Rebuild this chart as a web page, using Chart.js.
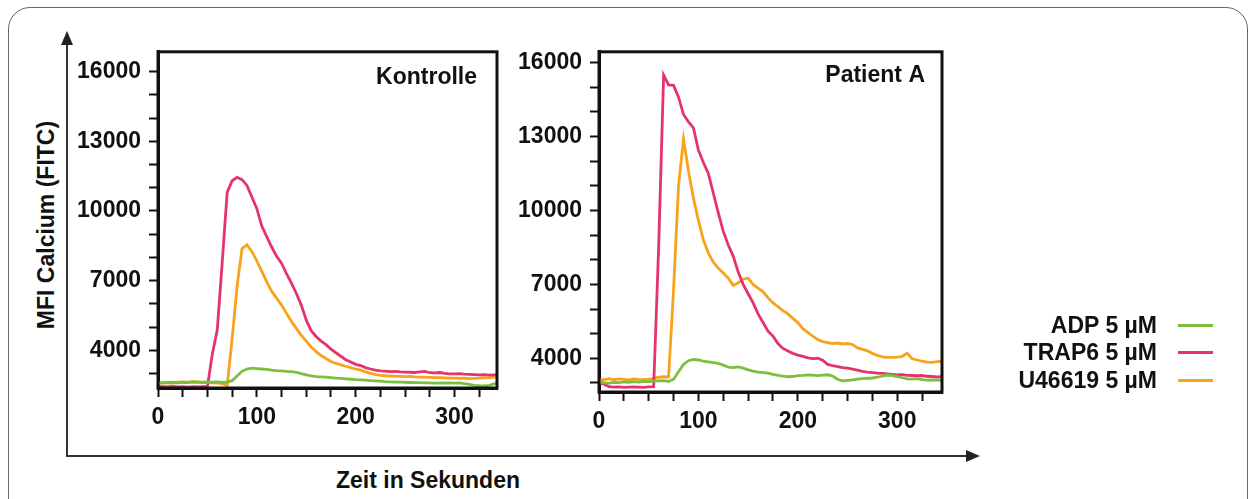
<!DOCTYPE html>
<html>
<head>
<meta charset="utf-8">
<script src="https://cdn.jsdelivr.net/npm/chart.js@4.4.1/dist/chart.umd.min.js"></script>
<style>
body { margin: 0; background: #fff; }
#wrap { position: relative; width: 1255px; height: 499px; overflow: hidden; background: #fff;
        font-family: "Liberation Sans", Arial, sans-serif; font-weight: bold; color: #111; }
#frame { position: absolute; left: 8px; top: 7px; width: 1238px; height: 560px;
         border: 1.5px solid #666; border-radius: 22px; }
canvas { position: absolute; }
.title { position: absolute; width: 320px; height: 30px; line-height: 30px; text-align: center; font-size: 23px; }
.leg { position: absolute; left: 900px; width: 257px; height: 28px; line-height: 28px; text-align: right; font-size: 23px; }
.swatch { position: absolute; left: 1178px; width: 35px; height: 3px; }
</style>
</head>
<body>
<div id="wrap">
  <div id="frame"></div>
  <svg width="1255" height="499" style="position:absolute;left:0;top:0">
    <line x1="67" y1="457" x2="67" y2="42" stroke="#333" stroke-width="2"/>
    <polygon points="67,31 61,45 73,45" fill="#222"/>
    <line x1="66" y1="456" x2="968" y2="456" stroke="#333" stroke-width="2"/>
    <polygon points="980,456 966,450 966,462" fill="#222"/>
  </svg>
  <canvas id="kontrolle" width="440" height="430" style="left:70px;top:30px"></canvas>
  <canvas id="patient" width="460" height="430" style="left:500px;top:30px"></canvas>
  <div class="title" style="left:-114px;top:210px;transform:rotate(-90deg)">MFI Calcium (FITC)</div>
  <div class="title" style="left:268px;top:465px">Zeit in Sekunden</div>
  <div id="legend"></div>
</div>
<script>
// time axis in seconds
const seconds = [0,5,10,15,20,25,30,35,40,45,50,55,60,65,70,75,80,85,90,95,100,105,110,115,120,125,130,135,140,145,150,155,160,165,170,175,180,185,190,195,200,205,210,215,220,225,230,235,240,245,250,255,260,265,270,275,280,285,290,295,300,305,310,315,320,325,330,335,340,345];

const seriesNames = ['ADP 5 µM', 'TRAP6 5 µM', 'U46619 5 µM'];
const seriesColors = ['#7cbf3f', '#e5336f', '#f8a31c'];

// Kontrolle
const kontrolleADP = [2590,2610,2600,2620,2610,2630,2620,2640,2630,2620,2640,2630,2650,2620,2640,
  2700,2900,3100,3200,3240,3220,3200,3180,3150,3130,3120,3100,3090,3060,3000,
  2950,2900,2870,2860,2850,2830,2810,2800,2780,2760,2740,2730,2720,2700,2690,
  2680,2660,2650,2640,2640,2630,2620,2610,2610,2600,2600,2590,2600,2590,2600,
  2590,2600,2570,2540,2500,2480,2470,2500,2560,2600];
const kontrolleTRAP6 = [2450,2440,2430,2450,2430,2440,2420,2440,2430,2440,2440,3850,4900,7800,10800,
  11300,11450,11350,11100,10600,10100,9350,8900,8450,8050,7750,7300,6900,6450,5950,
  5300,4850,4600,4400,4250,4050,3900,3750,3600,3500,3400,3350,3260,3200,3150,
  3120,3110,3090,3100,3080,3070,3060,3050,3080,3100,3040,3030,3050,3010,2990,
  2990,3000,2980,2970,2960,2950,2960,2940,2950,2960];
const kontrolleU46619 = [2580,2600,2620,2610,2630,2650,2640,2660,2650,2640,2620,2600,2590,2570,2500,
  4500,6750,8380,8550,8250,7850,7400,6950,6550,6250,5950,5600,5250,4950,4650,
  4400,4150,3950,3780,3650,3520,3440,3380,3320,3260,3200,3150,3080,3010,2960,
  2930,2910,2900,2890,2880,2870,2880,2860,2850,2850,2840,2830,2830,2820,2810,
  2810,2800,2810,2790,2800,2810,2820,2830,2850,2850];

// Patient A
const patientADP = [3030,3000,2990,3020,3010,3040,3020,3050,3030,3060,3050,3070,3080,3090,3060,
  3150,3450,3750,3900,3950,3930,3880,3850,3820,3790,3720,3640,3620,3650,3600,
  3530,3480,3440,3420,3400,3350,3310,3280,3250,3260,3300,3310,3330,3320,3300,
  3320,3330,3280,3150,3080,3100,3120,3150,3170,3190,3200,3230,3280,3320,3300,
  3260,3210,3160,3150,3170,3130,3110,3120,3110,3100];
const patientTRAP6 = [2990,2950,2850,2830,2840,2820,2830,2840,2830,2820,2840,2850,8500,15500,15100,
  15080,14600,13900,13600,13350,12450,11950,11500,10700,9900,9150,8600,8150,7500,7000,
  6620,6250,5800,5450,5100,4900,4600,4400,4300,4200,4130,4080,4020,3990,4000,
  3920,3750,3700,3660,3620,3600,3560,3520,3470,3440,3420,3400,3390,3370,3350,
  3330,3340,3310,3300,3290,3300,3270,3260,3240,3250];
const patientU46619 = [3150,3120,3170,3130,3160,3140,3120,3160,3140,3130,3150,3180,3230,3250,3240,
  6800,11000,12900,11600,10500,9600,8800,8270,7900,7650,7460,7250,6960,7060,7220,
  7250,7000,6850,6700,6450,6250,6100,5930,5800,5620,5450,5200,5050,4900,4760,
  4680,4640,4600,4620,4580,4600,4560,4420,4360,4300,4200,4120,4060,4040,4040,
  4050,4080,4200,3980,3930,3880,3840,3830,3860,3880];

// tick marks and the ones that get a label
const yTickMarks = [3000,4000,5000,6000,7000,8000,9000,10000,11000,12000,13000,14000,15000,16000];
const yTickLabels = [4000, 7000, 10000, 13000, 16000];
const xTickMarks = [0,25,50,75,100,125,150,175,200,225,250,275,300,325];
const xTickLabels = [0, 100, 200, 300];

// legend (right side)
const legend = document.getElementById('legend');
const legendTops = [311, 338, 366];
seriesNames.forEach((name, i) => {
  const t = document.createElement('div');
  t.className = 'leg';
  t.style.top = legendTops[i] + 'px';
  t.textContent = name;
  legend.appendChild(t);
  const s = document.createElement('div');
  s.className = 'swatch';
  s.style.top = (legendTops[i] + 13) + 'px';
  s.style.background = seriesColors[i];
  legend.appendChild(s);
});

// box around plot area + panel name
const boxPlugin = {
  id: 'box',
  afterDatasetsDraw(chart, args, opts) {
    const {ctx, chartArea: a} = chart;
    ctx.save();
    ctx.lineWidth = 3;
    ctx.strokeStyle = '#111';
    ctx.strokeRect(a.left, a.top, a.right - a.left, a.bottom - a.top);
    ctx.font = 'bold 23px "Liberation Sans", Arial, sans-serif';
    ctx.fillStyle = '#111';
    ctx.textAlign = 'right';
    ctx.textBaseline = 'middle';
    ctx.fillText(opts.text, a.right - opts.dx, a.top + opts.dy);
    ctx.restore();
  }
};

const tickFont = {family: '"Liberation Sans", Arial, sans-serif', size: 23, weight: 'bold'};

function makeChart(id, name, values, yMin, yMax, xMax, yWidth, xHeight, pad, dx, dy) {
  const datasets = values.map((vals, i) => ({
    label: seriesNames[i],
    data: seconds.map((s, j) => ({x: s, y: vals[j]})),
    borderColor: seriesColors[i],
    borderWidth: 2.8,
    pointRadius: 0,
    tension: 0,
    fill: false
  }));
  return new Chart(document.getElementById(id), {
    type: 'line',
    data: {datasets},
    plugins: [boxPlugin],
    options: {
      responsive: false,
      animation: false,
      layout: {padding: pad},
      plugins: {
        legend: {display: false},
        tooltip: {enabled: false},
        box: {text: name, dx: dx, dy: dy}
      },
      scales: {
        x: {
          type: 'linear',
          min: 0,
          max: xMax,
          afterFit: s => { s.height = xHeight; },
          afterBuildTicks: s => { s.ticks = xTickMarks.map(v => ({value: v})); },
          border: {display: true, color: '#111', width: 3},
          grid: {drawOnChartArea: false, color: '#111', tickLength: 9, tickWidth: 2},
          ticks: {
            autoSkip: false, maxRotation: 0,
            color: '#111', font: tickFont, padding: 7,
            callback: v => xTickLabels.includes(Math.round(v)) ? String(Math.round(v)) : ''
          }
        },
        y: {
          min: yMin,
          max: yMax,
          afterFit: s => { s.width = yWidth; },
          afterBuildTicks: s => { s.ticks = yTickMarks.map(v => ({value: v})); },
          border: {display: true, color: '#111', width: 3},
          grid: {drawOnChartArea: false, color: '#111', tickLength: 9, tickWidth: 2},
          ticks: {
            autoSkip: false,
            color: '#111', font: tickFont, padding: 8,
            callback: v => yTickLabels.includes(Math.round(v)) ? String(Math.round(v)) : ''
          }
        }
      }
    }
  });
}

makeChart('kontrolle', 'Kontrolle', [kontrolleADP, kontrolleTRAP6, kontrolleU46619],
  2383, 16850, 343, 88, 72, {top: 18, right: 13, left: 0, bottom: 0}, 20, 26);
makeChart('patient', 'Patient A', [patientADP, patientTRAP6, patientU46619],
  2631, 16443, 345, 99, 68, {top: 19, right: 18, left: 0, bottom: 0}, 17, 24);
</script>
</body>
</html>
